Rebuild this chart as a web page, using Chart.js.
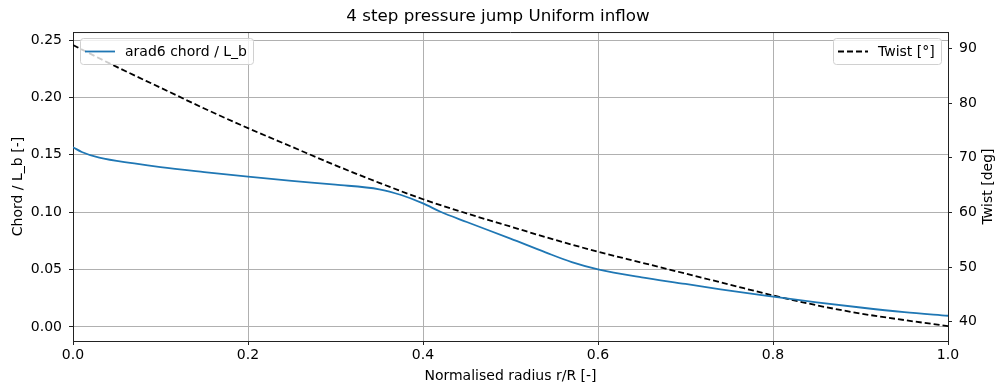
<!DOCTYPE html>
<html>
<head>
<meta charset="utf-8">
<script src="https://cdn.jsdelivr.net/npm/chart.js@4.4.1/dist/chart.umd.min.js"></script>
<style>
  html, body { margin: 0; padding: 0; background: #fff; }
  #wrap { width: 996px; height: 390px; }
</style>
</head>
<body>
<div id="wrap"><canvas id="chart"></canvas></div>
<script>
// ---- data ----
const chordR = [0, 0.01, 0.03, 0.07, 0.1, 0.15, 0.2, 0.25, 0.3, 0.35, 0.375, 0.4, 0.42,
  0.45, 0.5, 0.54, 0.57, 0.6, 0.65, 0.7, 0.74, 0.8, 0.85, 0.9, 0.95, 1.0];
const chordVals = [0.1566, 0.1525, 0.1475, 0.1425, 0.1393, 0.135, 0.131, 0.1273, 0.124,
  0.12, 0.115, 0.1077, 0.1004, 0.0915, 0.077, 0.065, 0.0565, 0.0502, 0.0432, 0.0375,
  0.0328, 0.0265, 0.0215, 0.017, 0.013, 0.0098];

const twistR = [0, 0.05, 0.1, 0.15, 0.2, 0.25, 0.3, 0.35, 0.4, 0.45, 0.5, 0.55, 0.6,
  0.65, 0.7, 0.75, 0.8, 0.85, 0.9, 0.95, 1.0];
const twistVals = [90.6, 86.6, 82.8, 79.0, 75.4, 72.0, 68.6, 65.4, 62.4, 59.8, 57.4,
  55.0, 52.8, 50.8, 48.8, 46.8, 44.8, 43.0, 41.5, 40.3, 39.2];

const radiusTicks = [0, 0.2, 0.4, 0.6, 0.8, 1.0];
const chordTicks = [0, 0.05, 0.1, 0.15, 0.2, 0.25];
const twistTicks = [40, 50, 60, 70, 80, 90];

const FONT = 'DejaVu Sans';
const toPoints = (xs, ys) => xs.map((x, i) => ({ x: x, y: ys[i] }));
const fixTicks = (arr) => (scale) => { scale.ticks = arr.map((v) => ({ value: v })); };

// top spine, right axis title (reads upwards) and the two legend boxes
const framePlugin = {
  id: 'frame',
  afterDatasetsDraw(chart) {
    const { ctx, chartArea: a } = chart;
    ctx.save();
    ctx.strokeStyle = '#222';
    ctx.lineWidth = 1;
    ctx.beginPath();
    ctx.moveTo(a.left, a.top + 0.5);
    ctx.lineTo(a.right, a.top + 0.5);
    ctx.stroke();

    ctx.save();
    ctx.translate(988, (a.top + a.bottom) / 2);
    ctx.rotate(-Math.PI / 2);
    ctx.fillStyle = '#000';
    ctx.font = '14px ' + FONT;
    ctx.textAlign = 'center';
    ctx.textBaseline = 'middle';
    ctx.fillText('Twist [deg]', 0, 0);
    ctx.restore();

    const box = (x, y, w, h, ds) => {
      ctx.fillStyle = 'rgba(255,255,255,0.8)';
      ctx.strokeStyle = '#d0d0d0';
      ctx.lineWidth = 1;
      ctx.beginPath();
      ctx.roundRect(x + 0.5, y + 0.5, w, h, 3);
      ctx.fill();
      ctx.stroke();
      ctx.strokeStyle = ds.borderColor;
      ctx.lineWidth = ds.borderWidth;
      ctx.setLineDash(ds.borderDash || []);
      ctx.beginPath();
      ctx.moveTo(x + 5, y + h / 2 + 0.5);
      ctx.lineTo(x + 35, y + h / 2 + 0.5);
      ctx.stroke();
      ctx.setLineDash([]);
      ctx.fillStyle = '#000';
      ctx.font = '14px ' + FONT;
      ctx.textBaseline = 'middle';
      ctx.textAlign = 'left';
      ctx.fillText(ds.label, x + 45, y + h / 2 + 1);
    };
    const sets = chart.data.datasets;
    box(80, 38, 173, 26, sets[0]);
    box(833, 38, 108, 26, sets[1]);
    ctx.restore();
  }
};

const tickFont = { family: FONT, size: 14 };
const titleFont = { family: FONT, size: 14 };

new Chart(document.getElementById('chart'), {
  type: 'line',
  data: {
    datasets: [
      {
        label: 'arad6 chord / L_b',
        data: toPoints(chordR, chordVals),
        borderColor: '#1f77b4',
        borderWidth: 1.8,
        pointRadius: 0,
        cubicInterpolationMode: 'monotone',
        yAxisID: 'y'
      },
      {
        label: 'Twist [°]',
        data: toPoints(twistR, twistVals),
        borderColor: '#000',
        borderWidth: 1.8,
        borderDash: [6, 3],
        pointRadius: 0,
        cubicInterpolationMode: 'monotone',
        yAxisID: 'y1'
      }
    ]
  },
  options: {
    responsive: true,
    maintainAspectRatio: false,
    animation: false,
    layout: { padding: 0 },
    plugins: {
      legend: { display: false },
      tooltip: { enabled: false },
      title: {
        display: true,
        text: '4 step pressure jump Uniform inflow',
        color: '#000',
        font: { family: FONT, size: 16.7, weight: 'normal' },
        padding: { top: 7, bottom: 5 }
      }
    },
    scales: {
      x: {
        type: 'linear',
        min: 0,
        max: 1,
        afterBuildTicks: fixTicks(radiusTicks),
        afterFit: (s) => { s.height = 49; },
        ticks: {
          color: '#000', font: tickFont, padding: 2, maxRotation: 0,
          callback: (v) => v.toFixed(1)
        },
        grid: { color: '#b0b0b0', lineWidth: 1, tickColor: '#222', tickLength: 4 },
        border: { color: '#222', width: 1 },
        title: {
          display: true, text: 'Normalised radius r/R [-]', color: '#000',
          font: titleFont, padding: { top: 0, bottom: 5 }
        }
      },
      y: {
        type: 'linear',
        position: 'left',
        min: -0.0122,
        max: 0.257,
        afterBuildTicks: fixTicks(chordTicks),
        afterFit: (s) => { s.width = 73; },
        ticks: {
          color: '#000', font: tickFont, padding: 7,
          callback: (v) => v.toFixed(2)
        },
        grid: { color: '#b0b0b0', lineWidth: 1, tickColor: '#222', tickLength: 4 },
        border: { color: '#222', width: 1 },
        title: {
          display: true, text: 'Chord / L_b [-]', color: '#000',
          font: titleFont, padding: { top: 9.5, bottom: 0 }
        }
      },
      y1: {
        type: 'linear',
        position: 'right',
        min: 36.47,
        max: 92.98,
        afterBuildTicks: fixTicks(twistTicks),
        afterFit: (s) => { s.width = 48; },
        ticks: {
          color: '#000', font: tickFont, padding: 7,
          callback: (v) => String(v)
        },
        grid: { drawOnChartArea: false, tickColor: '#222', tickLength: 4 },
        border: { color: '#222', width: 1 },
        title: { display: false }
      }
    }
  },
  plugins: [framePlugin]
});
</script>
</body>
</html>
